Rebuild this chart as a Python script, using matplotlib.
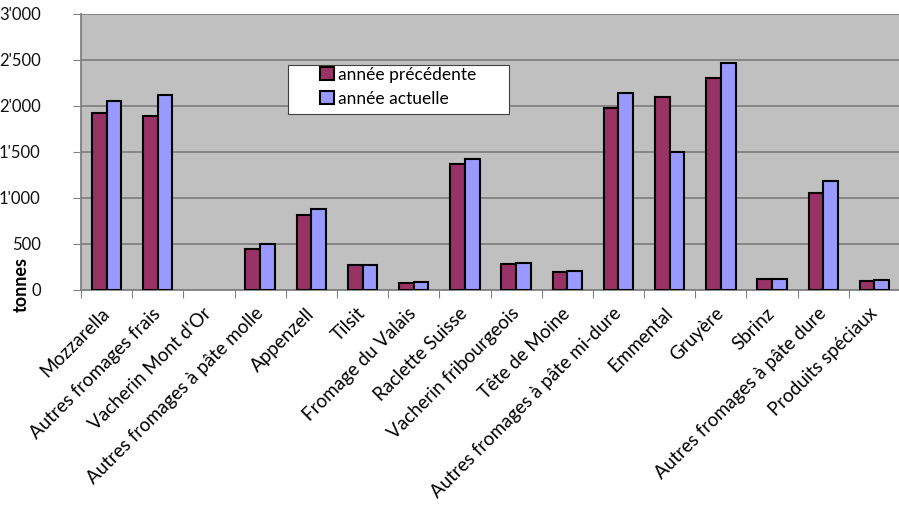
import matplotlib
matplotlib.use("Agg")
import matplotlib.pyplot as plt
import numpy as np
from matplotlib.ticker import FuncFormatter, FixedLocator
from matplotlib.patches import Rectangle

categories = ["Mozzarella", "Autres fromages frais", "Vacherin Mont d'Or",
              "Autres fromages à pâte molle", "Appenzell", "Tilsit",
              "Fromage du Valais", "Raclette Suisse", "Vacherin fribourgeois",
              "Tête de Moine", "Autres fromages à pâte mi-dure", "Emmental",
              "Gruyère", "Sbrinz", "Autres fromages à pâte dure", "Produits spéciaux"]
prev_year = [1925, 1895, 0, 450, 820, 275, 80, 1368, 283, 200, 1975, 2098, 2308, 123, 1058, 101]
curr_year = [2058, 2123, 0, 497, 885, 270, 86, 1422, 293, 205, 2145, 1500, 2464, 116, 1185, 108]
series_names = ["année précédente", "année actuelle"]
yticks = [0, 500, 1000, 1500, 2000, 2500, 3000]

plt.rcParams['font.family'] = ['Lato', 'DejaVu Sans']

W, H = 899, 509
fig = plt.figure(figsize=(W / 100, H / 100), dpi=100)
left_px, right_px, top_px, bottom_px = 81, 900, 14, 290
ax = fig.add_axes([left_px / W, 1 - bottom_px / H, (right_px - left_px) / W,
                   (bottom_px - top_px) / H])
ax.set_facecolor("#C0C0C0")

x = np.arange(len(categories))
w = 0.287
lw_prev = [1.5 if v > 0 else 0 for v in prev_year]
lw_curr = [1.5 if v > 0 else 0 for v in curr_year]
ax.bar(x - w/2, prev_year, w, color="#993366", edgecolor="black", linewidth=lw_prev,
       label=series_names[0], zorder=3)
ax.bar(x + w/2, curr_year, w, color="#9999FF", edgecolor="black", linewidth=lw_curr,
       label=series_names[1], zorder=3)

ax.set_xlim(-0.5, len(categories) - 0.5)
ax.set_ylim(0, 3000)
ax.yaxis.set_major_locator(FixedLocator(yticks))
ax.yaxis.set_major_formatter(FuncFormatter(lambda v, p: f"{int(v):,}".replace(",", "'")))
ax.yaxis.grid(True, color="#808080", linewidth=1.3, zorder=0)
ax.tick_params(axis='y', labelsize=12, length=6, color="#808080", direction='out', pad=23)
for t in ax.get_yticklabels():
    t.set_color("#111111")

ax.set_xticks(np.arange(len(categories) + 1) - 0.5)
ax.set_xticklabels([])
ax.set_xticks(x, minor=True)
ax.set_xticklabels(categories, minor=True, rotation=45, ha='right', va='center',
                   rotation_mode='anchor', fontsize=13.5)
ax.tick_params(axis='x', which='major', length=6, color="#808080", direction='out')
ax.tick_params(axis='x', which='minor', length=0, pad=15)

for s in ['top', 'right']:
    ax.spines[s].set_visible(False)
for s in ['left', 'bottom']:
    ax.spines[s].set_color("#808080")
    ax.spines[s].set_linewidth(1.3)

fig.text(21 / W, 1 - 284 / H, "tonnes", rotation=90, fontsize=13, fontweight='bold',
         ha='center', va='center')

# legend box (wider than its content, as in the reference)
bx0, bx1, by0, by1 = 288, 509, 65, 114
box = Rectangle(((bx0 - left_px) / (right_px - left_px), (bottom_px - by1) / (bottom_px - top_px)),
                (bx1 - bx0) / (right_px - left_px), (by1 - by0) / (bottom_px - top_px),
                transform=ax.transAxes, facecolor="white", edgecolor="#404040",
                linewidth=0.8, zorder=5)
ax.add_patch(box)
leg = ax.legend(loc='upper left',
                bbox_to_anchor=((320 - left_px) / (right_px - left_px),
                                (bottom_px - 67) / (bottom_px - top_px)),
                frameon=False, fontsize=12.5, handlelength=0.78, handleheight=0.78,
                handletextpad=0.25, borderpad=0, labelspacing=0.45, borderaxespad=0)
leg.set_zorder(6)

fig.savefig("out.png", dpi=100)
